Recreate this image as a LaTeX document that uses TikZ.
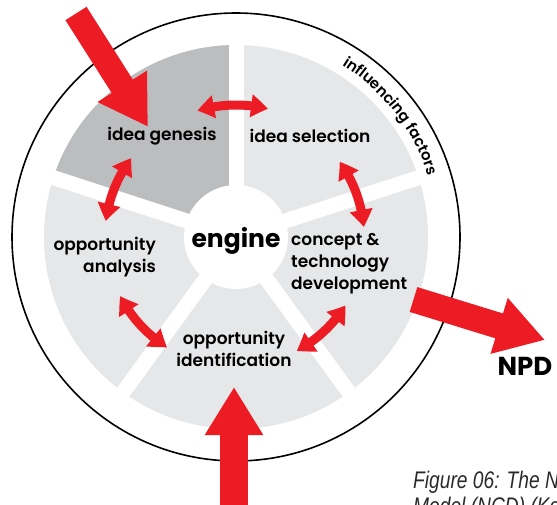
\documentclass[tikz,border=0pt]{standalone}
\usepackage{fontspec}
\usepackage{graphicx}
\setmainfont{Poppins}
\newfontfamily\lbl{Poppins SemiBold}
\newfontfamily\capfont{Liberation Sans}
\usetikzlibrary{arrows.meta,bending,decorations.text,calc}
\definecolor{npdred}{HTML}{ED1C24}
\definecolor{darkseg}{HTML}{BCBDBF}
\definecolor{lightseg}{HTML}{E6E7E8}
\definecolor{captext}{HTML}{2A2A2A}
\begin{document}
\begin{tikzpicture}[x=1pt,y=1pt,
  stage/.style={font=\lbl\fontsize{17}{22}\selectfont, text=black, inner sep=0pt},
  bigarrow/.style={npdred, line width=#1, -{Triangle[length=48pt,width=55pt]}},
  swap/.style={npdred, line width=9pt,
    {Triangle[length=17pt,width=22pt,bend]}-{Triangle[length=17pt,width=22pt,bend]}},
  hub/.style={circle, fill=white, minimum size=104pt, inner sep=0pt},
  captionline/.style={anchor=base west, inner sep=0pt, text=captext,
    font=\capfont\itshape\fontsize{24}{26}\selectfont}]
\useasboundingbox (0,0) rectangle (557,-505);
\clip (0,0) rectangle (557,-505);

% wheel of five stages
\coordinate (C) at (236,-237);
\fill[lightseg] (C) circle[radius=192];
\fill[darkseg] (C) -- ++(90:192) arc[start angle=90,end angle=162,radius=192] -- cycle;
\foreach \a in {18,90,162,234,306}
  \draw[white,line width=15pt] (C) -- ++(\a:200);
\node[hub] (hub) at (C) {};
\node[font=\bfseries\fontsize{25}{25}\selectfont, inner sep=0pt] (engtxt) at (236,-241) {engine};

% outer ring of influencing factors
\draw[line width=1.6pt] (C) circle[radius=224];
\path[decorate, decoration={text along path, text align=center,
  text={|\lbl\fontsize{15}{15}\selectfont|influencing factors}}]
  (C) ++(80:202) arc[start angle=80,end angle=-4,radius=202];

% stage labels
\node[stage] (genesis) at (162,-136) {idea genesis};
\node[stage] (selection) at (310,-136) {idea selection};
\node[stage, align=right, anchor=east] (analysis) at (156,-257) {opportunity\\analysis};
\node[stage, align=left, anchor=west] (concept) at (291,-264) {concept \&\\technology\\development};
\node[stage, align=center] (identification) at (234,-349) {opportunity\\identification};

% iteration between neighbouring stages
\draw[swap] (C) ++(107:132) arc[start angle=107,end angle=76,radius=132];
\draw[swap] (C) ++(143:131) arc[start angle=143,end angle=173,radius=131];
\draw[swap] (C) ++(36:128) arc[start angle=36,end angle=4.5,radius=128];
\draw[swap] (C) ++(-32:129) arc[start angle=-32,end angle=-62,radius=129];
\draw[swap] (C) ++(207:130) arc[start angle=207,end angle=238,radius=130];

% inputs and output
\coordinate (inTop) at (76,-13.5);
\coordinate (inBot) at (234,-515);
\coordinate (outStart) at (413.5,-299.5);
\draw[bigarrow=25pt] (inTop) -- (genesis.north west -| 148,-108);
\draw[bigarrow=28pt] (inBot) -- (identification.south |- 0,-387);
\node[font=\bfseries\fontsize{26}{26}\selectfont, inner sep=0pt] (npd) at (525,-366) {NPD};
\draw[bigarrow=26pt] (outStart) -- (545,-340);

% caption
\node[captionline] (cap1) at (413,-488) {\scalebox{0.8}[1]{Figure 06: The New Concept}};
\node[captionline] (cap2) at (413,-514) {\scalebox{0.8}[1]{Model (NCD) (Koen et al.)}};
\end{tikzpicture}
\end{document}
